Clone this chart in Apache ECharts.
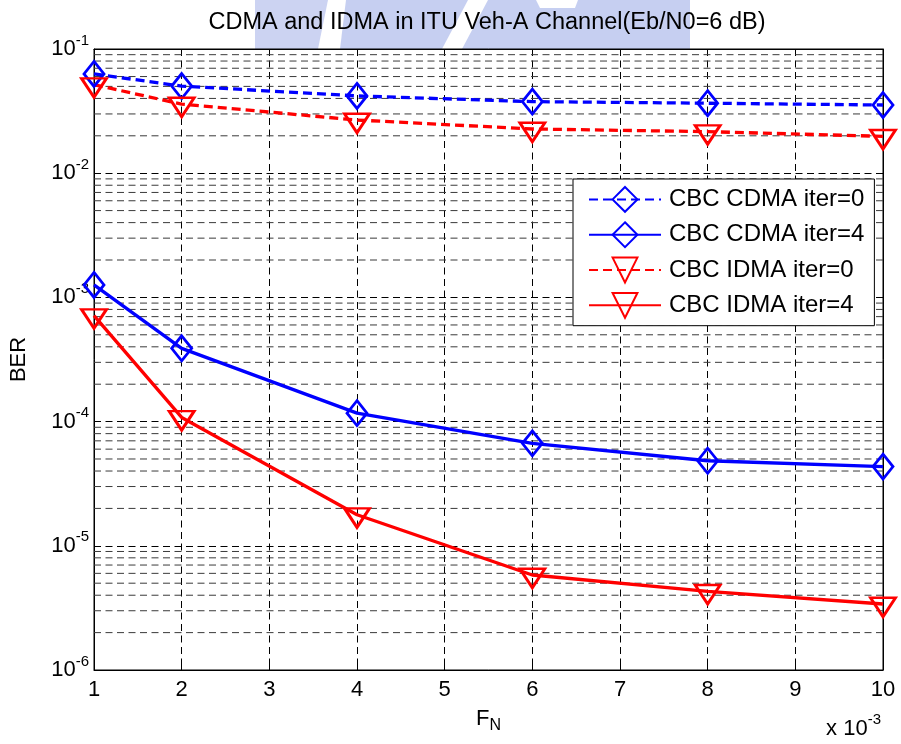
<!DOCTYPE html>
<html>
<head>
<meta charset="utf-8">
<script src="https://cdn.jsdelivr.net/npm/echarts@6/dist/echarts.min.js"></script>
<style>
  html, body { margin: 0; padding: 0; background: #fff; }
  #chart { width: 901px; height: 744px; }
</style>
</head>
<body>
<div id="chart"></div>
<script>
// Normalised Doppler frequency F_N (x 10^-3)
const fnValues = [1, 2, 4, 6, 8, 10];

// Bit error rate for each receiver / iteration count
const cdmaIter0 = [0.0630, 0.0503, 0.0419, 0.0377, 0.0366, 0.0354];
const cdmaIter4 = [1.26e-3, 3.89e-4, 1.17e-4, 6.68e-5, 4.84e-5, 4.34e-5];
const idmaIter0 = [0.0516, 0.0360, 0.0268, 0.0227, 0.0216, 0.0198];
const idmaIter4 = [7.13e-4, 1.08e-4, 1.78e-5, 5.82e-6, 4.30e-6, 3.40e-6];

const seriesNames = ['CBC CDMA iter=0', 'CBC CDMA iter=4', 'CBC IDMA iter=0', 'CBC IDMA iter=4'];

// Log-axis decades and the minor grid multipliers inside each decade
const decadeExponents = [-6, -5, -4, -3, -2];
const minorMultipliers = [2, 3, 4, 5, 6, 7, 8, 9];

const FONT = '"Liberation Sans", Arial, Helvetica, sans-serif';
const BLUE = '#0000ff';
const RED = '#ff0000';
const GRID_DASH = [7, 4.5];
const TRI_PATH = 'path://M0,0L20,0L10,17.32Z';

function pairs(ys) { return fnValues.map((x, i) => [x, ys[i]]); }

const minorGridValues = [];
decadeExponents.forEach(e => {
  minorMultipliers.forEach(k => {
    minorGridValues.push(k * Math.pow(10, e));
  });
});

function makeSeries(name, ys, color, dashed, isTriangle) {
  return {
    name: name,
    type: 'line',
    data: pairs(ys),
    z: 3,
    symbol: isTriangle ? TRI_PATH : 'diamond',
    symbolSize: isTriangle ? [25, 19] : [20, 25],
    symbolKeepAspect: false,
    symbolOffset: isTriangle ? [0, 3.2] : [0, 0],
    showAllSymbol: true,
    lineStyle: { color: color, width: 3.3, type: dashed ? [9, 5] : 'solid' },
    itemStyle: { color: 'rgba(0,0,0,0)', borderColor: color, borderWidth: 2.8 },
    emphasis: { disabled: true },
    animation: false
  };
}

const chart = echarts.init(document.getElementById('chart'), null, { renderer: 'canvas' });

const option = {
  backgroundColor: '#fff',
  animation: false,
  textStyle: { fontFamily: FONT },
  title: {
    text: 'CDMA and IDMA in ITU Veh-A Channel(Eb/N0=6 dB)',
    left: 482,
    textAlign: 'center',
    top: 6,
    textStyle: { fontFamily: FONT, fontSize: 23.5, fontWeight: 'normal', color: '#000' }
  },
  graphic: [
    // faint logo behind the title
    { type: 'polygon', z: -1, shape: { points: [[255, 0], [328, 0], [318, 49], [255, 49]] }, style: { fill: 'rgba(120,140,222,0.38)' } },
    { type: 'polygon', z: -1, shape: { points: [[346, 0], [468, 0], [442, 49], [340, 49]] }, style: { fill: 'rgba(120,140,222,0.42)' } },
    { type: 'polygon', z: -1, shape: { points: [[488, 0], [536, 0], [540, 8], [575, 8], [578, 0], [690, 0], [690, 49], [462, 49]] }, style: { fill: 'rgba(120,140,222,0.42)' } },
    {
      type: 'text', z: 10,
      style: {
        x: 881, y: 740,
        text: '{a|x 10}{s|-3}',
        align: 'right', verticalAlign: 'bottom',
        rich: {
          a: { fontFamily: FONT, fontSize: 22, color: '#000', verticalAlign: 'bottom', lineHeight: 22 },
          s: { fontFamily: FONT, fontSize: 15, color: '#000', verticalAlign: 'bottom', lineHeight: 15, padding: [0, 0, 13, 0] }
        }
      }
    }
  ],
  legend: {
    data: seriesNames,
    orient: 'vertical',
    left: 573,
    top: 179,
    padding: [7, 10, 7, 15],
    itemWidth: 72,
    itemHeight: 31,
    itemGap: 8.5,
    selectedMode: false,
    backgroundColor: '#fff',
    borderColor: '#000',
    borderWidth: 1,
    borderRadius: 0,
    textStyle: { fontFamily: FONT, fontSize: 24, color: '#000', padding: [0, 0, 0, 3], lineHeight: 26 }
  },
  grid: {
    left: 93, right: 18, top: 49, bottom: 74,
    show: true, borderColor: '#000', borderWidth: 1, backgroundColor: 'rgba(0,0,0,0)'
  },
  xAxis: [{
    type: 'value',
    min: 1, max: 10, interval: 1,
    name: '{f|F}{n|N}',
    nameLocation: 'middle',
    nameGap: 38,
    nameTextStyle: {
      rich: {
        f: { fontFamily: FONT, fontSize: 22, color: '#000', verticalAlign: 'top', lineHeight: 22 },
        n: { fontFamily: FONT, fontSize: 16, color: '#000', verticalAlign: 'top', lineHeight: 16, padding: [10, 0, 0, 0] }
      }
    },
    axisLine: { show: true, lineStyle: { color: '#000', width: 1 } },
    axisTick: { show: true, inside: true, length: 7, lineStyle: { color: '#000' } },
    axisLabel: { fontFamily: FONT, fontSize: 22, color: '#000', margin: 9 },
    splitLine: { show: true, lineStyle: { color: '#000', width: 1, type: GRID_DASH } }
  }, {
    type: 'value', position: 'top',
    min: 1, max: 10, interval: 1,
    axisLine: { show: true, lineStyle: { color: '#000' } },
    axisTick: { show: true, inside: true, length: 7, lineStyle: { color: '#000' } },
    axisLabel: { show: false },
    splitLine: { show: false }
  }],
  yAxis: [{
    type: 'log',
    logBase: 10,
    min: 1e-6, max: 1e-1,
    name: 'BER',
    nameLocation: 'middle',
    nameGap: 64,
    nameRotate: 90,
    nameTextStyle: { fontFamily: FONT, fontSize: 22, color: '#000' },
    axisLine: { show: true, lineStyle: { color: '#000', width: 1 } },
    axisTick: { show: true, inside: true, length: 7, lineStyle: { color: '#000' } },
    axisLabel: {
      margin: 5,
      formatter: function (v) {
        const e = Math.round(Math.log10(v));
        return '{b|10}{s|' + e + '}';
      },
      rich: {
        b: { fontFamily: FONT, fontSize: 22, color: '#000', verticalAlign: 'bottom', lineHeight: 22 },
        s: { fontFamily: FONT, fontSize: 15, color: '#000', verticalAlign: 'bottom', lineHeight: 15, padding: [0, 0, 12, 0] }
      }
    },
    splitLine: { show: true, lineStyle: { color: '#000', width: 1, type: GRID_DASH } }
  }, {
    type: 'log', position: 'right',
    logBase: 10,
    min: 1e-6, max: 1e-1,
    axisLine: { show: true, lineStyle: { color: '#000' } },
    axisTick: { show: true, inside: true, length: 7, lineStyle: { color: '#000' } },
    axisLabel: { show: false },
    splitLine: { show: false }
  }],
  series: [
    {
      // dashed minor grid at 2..9 x 10^n, placed through the log scale
      name: 'minor grid',
      type: 'custom',
      data: minorGridValues.map(v => [v]),
      z: 1,
      silent: true,
      clip: true,
      encode: { y: 0 },
      renderItem: function (params, api) {
        const v = api.value(0);
        const a = api.coord([1, v]);
        const b = api.coord([10, v]);
        return {
          type: 'line',
          shape: { x1: a[0], y1: a[1], x2: b[0], y2: b[1] },
          style: { stroke: '#3a3a3a', lineWidth: 1, lineDash: GRID_DASH, fill: null }
        };
      }
    },
    makeSeries(seriesNames[0], cdmaIter0, BLUE, true, false),
    makeSeries(seriesNames[1], cdmaIter4, BLUE, false, false),
    makeSeries(seriesNames[2], idmaIter0, RED, true, true),
    makeSeries(seriesNames[3], idmaIter4, RED, false, true)
  ]
};

chart.setOption(option);
</script>
</body>
</html>
